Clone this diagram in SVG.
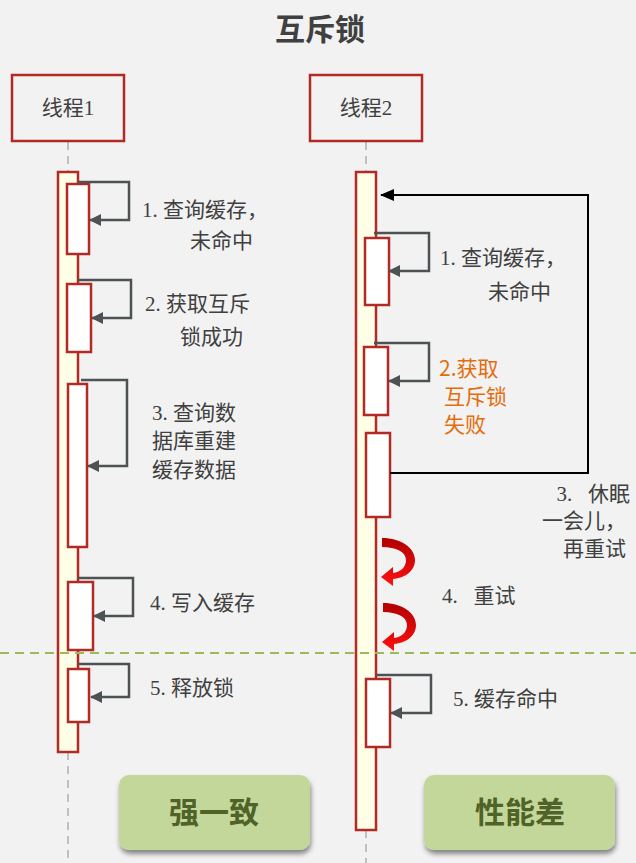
<svg xmlns="http://www.w3.org/2000/svg" width="636" height="863" viewBox="0 0 636 863">
<style>
.txt{font-family:"Liberation Serif","Noto Sans CJK SC",serif;font-size:21px;fill:#404040}
.org{font-family:"Noto Sans CJK SC","Noto Sans",sans-serif;font-size:21px;fill:#e46c0a}
.life{stroke:#c0c0c0;stroke-width:2;stroke-dasharray:8,6;fill:none}
.head{fill:none;stroke:#b22a24;stroke-width:2.5}
.bar{fill:#fffee6;stroke:#b22a24;stroke-width:2.5}
.act{fill:#ffffff;stroke:#b22a24;stroke-width:2.5}
.self{fill:none;stroke:#4d5354;stroke-width:2.5;marker-end:url(#ah)}
.btn{fill:#c4d79b}
.btxt{font-family:"Noto Sans CJK SC","Noto Sans",sans-serif;font-size:30px;font-weight:bold;fill:#4f6228}
</style>
<defs>
<marker id="ah" viewBox="0 0 12 12" refX="11" refY="6" markerWidth="12" markerHeight="12" markerUnits="userSpaceOnUse" orient="auto">
<path d="M0,0 L12,6 L0,12 Z" fill="#4d5354"/>
</marker>
<marker id="bh" viewBox="0 0 14 12" refX="13" refY="6" markerWidth="14" markerHeight="12" markerUnits="userSpaceOnUse" orient="auto">
<path d="M0,0 L14,6 L0,12 Z" fill="#000"/>
</marker>
<linearGradient id="rg" x1="0" y1="0" x2="0" y2="1">
<stop offset="0" stop-color="#b00000"/>
<stop offset="1" stop-color="#ff1010"/>
</linearGradient>
<filter id="sh" x="-10%" y="-10%" width="120%" height="130%">
<feDropShadow dx="1" dy="4" stdDeviation="2.5" flood-color="#000" flood-opacity="0.45"/>
</filter>
</defs>
<rect width="636" height="863" fill="#f2f2f2"/>
<text x="320" y="40" text-anchor="middle" style="font-family:'Noto Sans CJK SC',sans-serif;font-size:30px;font-weight:bold;fill:#404040">互斥锁</text>

<g id="lifelines">
<line class="life" x1="68" y1="142" x2="68" y2="172"/>
<line class="life" x1="68" y1="752" x2="68" y2="863"/>
<line class="life" x1="366" y1="142" x2="366" y2="172"/>
<line class="life" x1="366" y1="830" x2="366" y2="863"/>
</g>

<g id="thread1">
<rect class="head" x="12" y="75" width="112" height="66"/>
<text class="txt" x="68" y="115" text-anchor="middle">线程1</text>
<rect class="bar" x="58" y="172" width="20" height="580"/>
</g>
<g id="thread2">
<rect class="head" x="310" y="75" width="112" height="66"/>
<text class="txt" x="366" y="115" text-anchor="middle">线程2</text>
<rect class="bar" x="356" y="172" width="20" height="658"/>
</g>

<g id="t1-steps">
<rect class="act" x="67" y="184" width="22" height="70"/>
<rect class="act" x="67" y="284" width="24" height="68"/>
<rect class="act" x="68" y="384" width="19" height="163"/>
<rect class="act" x="68" y="582" width="25" height="68"/>
<rect class="act" x="68" y="669" width="21" height="53"/>
</g>
<g id="t2-steps">
<rect class="act" x="365" y="238" width="24" height="67"/>
<rect class="act" x="364" y="347" width="24" height="68"/>
<rect class="act" x="366" y="433" width="24" height="84"/>
<rect class="act" x="366" y="679" width="24" height="68"/>
</g>

<g id="connectors">
<polyline class="self" points="78,182 129,182 129,220 90,220"/>
<polyline class="self" points="78,280 131,280 131,318 92,318"/>
<polyline class="self" points="81,380 127,380 127,466 88,466"/>
<polyline class="self" points="78,578 133,578 133,616 94,616"/>
<polyline class="self" points="78,664 129,664 129,697 91,697"/>
<polyline class="self" points="374,233 429,233 429,271 389,271"/>
<polyline class="self" points="374,343 429,343 429,381 389,381"/>
<polyline class="self" points="376,675 431,675 431,713 391,713"/>
<polyline points="390,473 588,473 588,195 381,195" fill="none" stroke="#000" stroke-width="2" marker-end="url(#bh)"/>
<path d="M382,538 C401,538 415,548 415,560 C415,571 405,578 393,579 L393,586 L381,577 L393,567 L393,573 C401,572 406,567 406,560 C406,552 396,547 382,547 Z" fill="url(#rg)"/>
<path transform="translate(1,65)" d="M382,538 C401,538 415,548 415,560 C415,571 405,578 393,579 L393,586 L381,577 L393,567 L393,573 C401,572 406,567 406,560 C406,552 396,547 382,547 Z" fill="url(#rg)"/>
<line x1="0" y1="653" x2="636" y2="653" stroke="#9bbb59" stroke-width="2" stroke-dasharray="9,6"/>
</g>

<g id="labels">
<text class="txt" x="142" y="217">1. 查询缓存，</text>
<text class="txt" x="190" y="248">未命中</text>
<text class="txt" x="145" y="311">2. 获取互斥</text>
<text class="txt" x="180" y="344">锁成功</text>
<text class="txt" x="152" y="420">3. 查询数</text>
<text class="txt" x="152" y="448">据库重建</text>
<text class="txt" x="152" y="477">缓存数据</text>
<text class="txt" x="150" y="610">4. 写入缓存</text>
<text class="txt" x="150" y="695">5. 释放锁</text>
<text class="txt" x="440" y="265">1. 查询缓存，</text>
<text class="txt" x="488" y="299">未命中</text>
<text class="org" x="439" y="376">2.获取</text>
<text class="org" x="444" y="404">互斥锁</text>
<text class="org" x="444" y="432">失败</text>
<text class="txt" x="630" y="501" text-anchor="end">3.&#160;&#160;&#160;休眠</text>
<text class="txt" x="626" y="528" text-anchor="end">一会儿，</text>
<text class="txt" x="626" y="556" text-anchor="end">再重试</text>
<text class="txt" x="442" y="603">4.&#160;&#160;&#160;重试</text>
<text class="txt" x="453" y="706">5. 缓存命中</text>
</g>

<g id="strong">
<rect class="btn" x="119" y="775" width="191" height="75" rx="10" filter="url(#sh)"/>
<text class="btxt" x="214" y="823" text-anchor="middle">强一致</text>
</g>
<g id="slow">
<rect class="btn" x="424" y="775" width="191" height="75" rx="10" filter="url(#sh)"/>
<text class="btxt" x="520" y="823" text-anchor="middle">性能差</text>
</g>
</svg>
